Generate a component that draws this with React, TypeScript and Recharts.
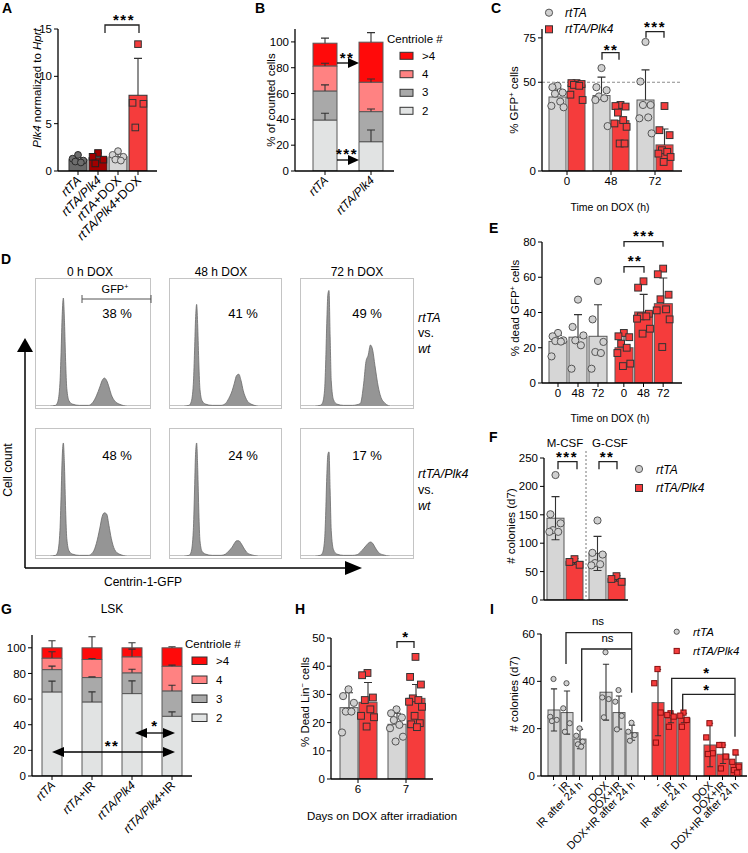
import React from "react";
import { Area, AreaChart, Bar, ComposedChart, ReferenceLine, Scatter, XAxis, YAxis } from "recharts";

const FONT = "'Liberation Sans', Arial, Helvetica, sans-serif";
const GRAY = "#d6d6d6";
const RED = "#f53c3c";
const EDGE = "#585858";
const SEG_KEYS = ["n2", "n3", "n4", "n5"]; // centriole # 2, 3, 4, >4
const SEG_COLORS = ["#e1e3e3", "#a9a9a9", "#ff8282", "#ff0a0a"];

// ---- A: Plk4 mRNA
const aCats = ["rtTA", "rtTA/Plk4", "rtTA+DOX", "rtTA/Plk4+DOX"];
const aLabels = ["_rtTA_", "_rtTA/Plk4_", "_rtTA_+DOX", "_rtTA/Plk4_+DOX"];
const aMean = [1.2, 1.4, 1.5, 8.0];
const aSd = [0.2, 0.5, 0.3, 3.9];
const aPts = [[1.7, 1.3, 1.1, 1.0, 0.9], [1.9, 1.5, 1.2, 0.8], [2.1, 1.7, 1.5, 1.2, 1.1], [13.4, 7.2, 7.1, 4.6]];

// ---- B: centriole number, BM cells
const bCats = ["rtTA", "rtTA/Plk4"];
const bLabels = ["_rtTA_", "_rtTA/Plk4_"];
const bRtta = [39.5, 22.5, 19.4, 17.6];
const bRttaSd = [5.2, 4.7, 2.1, 3.9];
const bPlk4 = [22.7, 23.3, 22.8, 31.0];
const bPlk4Sd = [9.1, 2.0, 2.5, 7.4];

// ---- C: % GFP+ cells
const cTimes = ["0", "48", "72"];
const cRttaMean = [41.7, 42.5, 40.0];
const cRttaSd = [5, 10.4, 17];
const cRttaPts = [[48, 47.2, 44.2, 43.5, 39.1, 36.7, 35.9], [58, 47.2, 45.5, 42, 41, 40, 25.3], [72.7, 50.4, 37.2, 37.2, 30.2, 29.7, 21.2]];
const cPlk4Mean = [48.5, 28.4, 14.7];
const cPlk4Sd = [1.5, 7, 9];
const cPlk4Pts = [[49.5, 49.5, 49, 48.5, 48, 43, 40], [37.2, 36.6, 36.3, 32.9, 28.7, 26.8, 24.9, 15.5, 15.5], [36.6, 23, 20.2, 11.7, 10.8, 9.8, 7.9, 5.1]];

// ---- D: Centrin-1-GFP histograms (x in % of gate axis)
const histX = [0, 12, 17, 19, 21, 22, 23, 24, 25, 26, 27, 29, 32, 38, 46, 50, 53, 56, 58, 60, 62, 64, 66, 69, 73, 80, 100];
const h0Rtta = [0, 0, 0.5, 3, 18, 42, 72, 85, 66, 35, 14, 4, 1.5, 0.5, 0.5, 3, 8, 15, 20, 22, 20, 15, 9, 4, 1.5, 0, 0];
const h48Rtta = [0, 0, 0.5, 3, 17, 40, 68, 80, 62, 33, 13, 4, 1.5, 0.5, 0.5, 2, 6, 12, 18, 24, 25, 20, 12, 5, 1.5, 0, 0];
const h72Rtta = [0, 0, 0.5, 2, 12, 33, 65, 88, 91, 55, 20, 5, 1.5, 0.5, 0.5, 1, 2, 18, 35, 40, 48, 44, 32, 15, 4, 0, 0];
const h0Plk4 = [0, 0, 0.5, 3, 20, 47, 78, 89, 70, 36, 14, 4, 1.5, 0.5, 0.5, 3, 10, 22, 31, 34, 33, 24, 14, 5, 1.5, 0, 0];
const h48Plk4 = [0, 0, 0.5, 3, 20, 48, 80, 89, 68, 34, 12, 3.5, 1.5, 0.5, 0.5, 1.5, 4, 7, 10, 12, 12, 10, 7, 3, 1, 0, 0];
const h72Plk4 = [0, 0, 0.5, 2, 12, 32, 62, 80, 82, 52, 20, 5, 1.5, 0.5, 0.5, 1, 3, 6, 8, 10, 11, 10, 7, 3, 1, 0, 0];

// ---- E: % dead GFP+ cells
const eTimes = ["0", "48", "72"];
const eRttaMean = [23.6, 26, 26.5];
const eRttaSd = [3.5, 12.8, 17.9];
const eRttaPts = [[28.4, 26.5, 24.2, 23.8, 23.5, 15.1], [47.3, 31.8, 27, 24.2, 21.4, 8.1], [57.9, 36.1, 23.3, 17.6, 17, 8.1]];
const ePlk4Mean = [20, 40.3, 45];
const ePlk4Sd = [7, 10, 14.6];
const ePlk4Pts = [[28.4, 26.5, 26, 22.3, 20, 17, 11, 9.6], [57.7, 54.1, 39.3, 37.8, 37.8, 36.5, 30.8, 28], [64.9, 61.7, 50.1, 47.5, 41.8, 41.2, 36.1, 20.4]];

// ---- F: colonies
const fMedia = ["M-CSF", "G-CSF"];
const fRttaMean = [144, 82];
const fRttaSd = [38, 30];
const fRttaPts = [[220, 151, 135, 123, 120, 120], [140, 83, 80, 65, 63, 61]];
const fPlk4Mean = [68, 38];
const fPlk4Sd = [5, 5];
const fPlk4Pts = [[72, 67, 62], [42, 37, 32]];

// ---- G: centriole number, LSK
const gCats = ["rtTA", "rtTA+IR", "rtTA/Plk4", "rtTA/Plk4+IR"];
const gLabels = ["_rtTA_", "_rtTA_+IR", "_rtTA/Plk4_", "_rtTA/Plk4_+IR"];
const gRtta = [65.6, 17.4, 9, 8];
const gRttaSd = [8.4, 2.7, 4.9, 5.5];
const gRttaIr = [57.8, 19, 14.1, 9.1];
const gRttaIrSd = [7.8, 0.5, 0.8, 8.6];
const gPlk4 = [64.3, 16.2, 12.5, 7];
const gPlk4Sd = [9.9, 2.8, 6, 3.9];
const gPlk4Ir = [46.6, 19.8, 19.3, 14.3];
const gPlk4IrSd = [3.4, 4.4, 0.8, 0.8];

// ---- H: % dead Lin- cells
const hDays = ["6", "7"];
const hRttaMean = [25.3, 19.4];
const hRttaSd = [5.3, 3.9];
const hRttaPts = [[31.8, 29.4, 27, 23.9, 23.9, 16.5], [24.7, 23.3, 21.8, 20.9, 19.2, 18, 15, 13.3]];
const hPlk4Mean = [27.2, 28.6];
const hPlk4Sd = [7, 4.9];
const hPlk4Pts = [[37.6, 36.8, 28.9, 28, 24.7, 22.4, 21.9, 18.6], [43.3, 36.2, 33.5, 28.6, 28, 27.4, 25.6, 22.4, 19.8, 19.4, 18.4]];

// ---- I: colonies after IR
const iSlots = ["r1", "r2", "r3", "gA", "r4", "r5", "r6", "gB", "p1", "p2", "p3", "gC", "p4", "p5", "p6"];
const iLabels = ["-", "IR", "IR after 24 h", "", "DOX", "DOX+IR", "DOX+IR after 24 h", "", "-", "IR", "IR after 24 h", "", "DOX", "DOX+IR", "DOX+IR after 24 h"];
const iGeno = ["rtTA", "rtTA", "rtTA", "", "rtTA", "rtTA", "rtTA", "", "Plk4", "Plk4", "Plk4", "", "Plk4", "Plk4", "Plk4"];
const iMean = [27.9, 26.8, 15.6, null, 35.4, 26.8, 18.3, null, 31, 24.5, 24.5, null, 13.1, 9.2, 5.6];
const iSd = [8.9, 9.1, 4.1, null, 11.8, 7, 3.2, null, 14, 2, 2, null, 9.2, 3.9, 3.3];
const iPts = [[41, 25, 23.7, 23.2], [39.2, 28.6, 22.3, 18.7], [20.1, 17, 14.5, 13.4, 12.4], [], [52.3, 33.2, 32.5, 24.8], [36.3, 31.4, 25.4, 19.7], [22.5, 18.7, 17.3, 14.9], [], [45.2, 39.2, 26.8, 14.1], [26.5, 25.8, 25.1, 20.8], [26.8, 25.5, 23.7, 20.8], [], [22.3, 16.3, 9.6, 9.3], [13.1, 13.1, 8.2, 3.2], [10, 6, 3.9, 2.5, 1.4]];

type DotStyle = { kind: "c" | "s"; fill: string; stroke: string; r: number };
type Ser = {
  key: string;
  mean: (number | null)[];
  err: (number | null)[];
  pts: number[][];
  fill: string | string[];
  stroke?: string;
  dot: DotStyle | (DotStyle | null)[];
};

const grayDot: DotStyle = { kind: "c", fill: "#d0d0d0", stroke: "#555", r: 3.6 };
const redDot: DotStyle = { kind: "s", fill: RED, stroke: "#333", r: 3.4 };
const grayDotS: DotStyle = { kind: "c", fill: "#d0d0d0", stroke: "#555", r: 2.6 };
const redDotS: DotStyle = { kind: "s", fill: RED, stroke: "#8a1010", r: 2.6 };

const JIT = [0, -0.3, 0.3, -0.15, 0.16, -0.36, 0.36, -0.05, 0.24, -0.24, 0.08, -0.12];
const axisLine = { stroke: "#000", strokeWidth: 1.3 };
const tickLine = { stroke: "#000", strokeWidth: 1 };
const tickFont = { fontSize: 11.5, fill: "#000", fontFamily: FONT };

// italic with _x_, superscript with ^x^
const rich = (s: string) =>
  s
    .split(/(_[^_]+_|\^[^^]+\^)/)
    .filter((q) => q !== "")
    .map((q, i) =>
      q[0] === "_" ? (
        <tspan key={i} fontStyle="italic">{q.slice(1, -1)}</tspan>
      ) : q[0] === "^" ? (
        <tspan key={i} baselineShift="super" fontSize="65%">{q.slice(1, -1)}</tspan>
      ) : (
        <tspan key={i}>{q}</tspan>
      )
    );

function frame(box: number[], yw: number, xh: number, t: number, r: number) {
  const [pl, pt, pr, pb] = box;
  const left = pl - yw;
  const top = pt - t;
  return { left, top, width: pr - left + r, height: pb - top + xh, margin: { top: t, right: r, bottom: 0, left: 0 } };
}

function whisker(cx: number, yTop: number, up: number, down: number, cap: number, key?: string) {
  let d = "";
  if (up > 0.5) d += `M${cx},${yTop}V${yTop - up}M${cx - cap},${yTop - up}H${cx + cap}`;
  if (down > 0.5) d += `M${cx},${yTop}V${yTop + down}M${cx - cap},${yTop + down}H${cx + cap}`;
  return d ? <path key={key} d={d} stroke="#333" strokeWidth={1.1} fill="none" /> : null;
}

const rotTick = (cats: string[], labels: string[], fs = 12) => (p: any) => {
  const i = cats.indexOf(p.payload.value);
  return (
    <text transform={`translate(${p.x + 4},${p.y + 4}) rotate(-45)`} textAnchor="end" fontSize={fs} fill="#000" fontFamily={FONT}>
      {rich(labels[i] ?? "")}
    </text>
  );
};

const barShape = (s: Ser, both: boolean) => (p: any) => {
  const { x, y, width, height, payload } = p;
  const v = payload?.[s.key];
  if (v == null || !height) return <g />;
  const k = height / v;
  const sd = payload[s.key + "Err"] ?? 0;
  const fill = Array.isArray(s.fill) ? s.fill[payload.idx] : s.fill;
  return (
    <g>
      <rect x={x} y={y} width={width} height={height} fill={fill} stroke={s.stroke ?? EDGE} strokeWidth={1} />
      {whisker(x + width / 2, y, sd * k, both ? sd * k : 0, Math.min(4, width * 0.26))}
    </g>
  );
};

const dotShape = (s: Ser, dx: number) => (p: any) => {
  const { cx, cy, payload } = p;
  if (!Number.isFinite(cx) || !Number.isFinite(cy)) return <g />;
  const st = Array.isArray(s.dot) ? s.dot[payload?.idx] : s.dot;
  if (!st) return <g />;
  const X = cx + dx;
  return st.kind === "c" ? (
    <circle cx={X} cy={cy} r={st.r} fill={st.fill} stroke={st.stroke} strokeWidth={1} />
  ) : (
    <rect x={X - st.r} y={cy - st.r} width={st.r * 2} height={st.r * 2} fill={st.fill} stroke={st.stroke} strokeWidth={1} />
  );
};

type DotBarsProps = {
  box: number[];
  cats: string[];
  labels?: string[];
  domain: [number, number];
  ticks: number[];
  series: Ser[];
  barSize: number;
  barGap?: number;
  pad?: { left: number; right: number };
  both?: boolean;
  yw?: number;
  xh?: number;
  t?: number;
  r?: number;
  hideY?: boolean;
  noXTicks?: boolean;
  tick?: any;
  spread?: number;
  children?: React.ReactNode;
};

function DotBars(p: DotBarsProps) {
  const yw = p.yw ?? 30;
  const xh = p.xh ?? 20;
  const f = frame(p.box, yw, xh, p.t ?? 6, p.r ?? 6);
  const bg = p.barGap ?? 2;
  const n = p.series.length;
  const rows = p.cats.map((c, i) => {
    const r: any = { c, idx: i };
    p.series.forEach((s) => {
      r[s.key] = s.mean[i];
      r[s.key + "Err"] = s.err[i];
      (s.pts[i] ?? []).forEach((v, j) => (r[`${s.key}_${j}`] = v));
    });
    return r;
  });
  const maxPts = Math.max(...p.series.flatMap((s) => s.pts.map((q) => q.length)));
  const labels = p.labels;
  return (
    <div style={{ position: "absolute", left: f.left, top: f.top }}>
      <ComposedChart width={f.width} height={f.height} data={rows} margin={f.margin} barSize={p.barSize} barGap={bg} barCategoryGap={0} style={{ fontFamily: FONT }}>
        <XAxis
          dataKey="c"
          type="category"
          height={xh}
          padding={p.pad ?? { left: 0, right: 0 }}
          interval={0}
          axisLine={axisLine}
          tickLine={p.noXTicks ? false : tickLine}
          tickSize={4}
          tick={p.noXTicks ? false : p.tick ?? tickFont}
          tickFormatter={labels ? (v: string) => labels[p.cats.indexOf(v)] ?? "" : undefined}
        />
        <YAxis type="number" width={yw} hide={p.hideY} domain={p.domain} ticks={p.ticks} allowDataOverflow interval={0} axisLine={axisLine} tickLine={tickLine} tickSize={4} tick={tickFont} />
        {p.children}
        {p.series.map((s) => (
          <Bar key={s.key} dataKey={s.key} isAnimationActive={false} shape={barShape(s, !!p.both)} />
        ))}
        {p.series.flatMap((s, si) =>
          Array.from({ length: maxPts }, (_, j) => (
            <Scatter
              key={`${s.key}_${j}`}
              dataKey={`${s.key}_${j}`}
              isAnimationActive={false}
              shape={dotShape(s, (si - (n - 1) / 2) * (p.barSize + bg) + JIT[j % JIT.length] * p.barSize * (p.spread ?? 1))}
            />
          ))
        )}
      </ComposedChart>
    </div>
  );
}

const stackTop = (p: any) => {
  const { x, y, width, height, payload } = p;
  const last = SEG_KEYS[SEG_KEYS.length - 1];
  const k = height / payload[last];
  const below = SEG_KEYS.slice(0, -1).reduce((s, kk) => s + payload[kk], 0);
  const base = y + height + below * k;
  let cum = 0;
  return (
    <g>
      <rect x={x} y={y} width={width} height={height} fill={SEG_COLORS[3]} stroke={EDGE} strokeWidth={1} />
      {SEG_KEYS.map((kk) => {
        cum += payload[kk];
        return whisker(x + width / 2, base - cum * k, payload[kk + "Err"] * k, 0, Math.min(4, width * 0.18), kk);
      })}
    </g>
  );
};

function StackBars(p: { box: number[]; cats: string[]; labels: string[]; segs: number[][]; sds: number[][]; barSize: number; pad?: { left: number; right: number } }) {
  const f = frame(p.box, 30, 80, 6, 6);
  const rows = p.cats.map((c, i) => {
    const r: any = { c };
    SEG_KEYS.forEach((k, j) => {
      r[k] = p.segs[i][j];
      r[k + "Err"] = p.sds[i][j];
    });
    return r;
  });
  return (
    <div style={{ position: "absolute", left: f.left, top: f.top }}>
      <ComposedChart width={f.width} height={f.height} data={rows} margin={f.margin} barSize={p.barSize} barCategoryGap={0} style={{ fontFamily: FONT }}>
        <XAxis dataKey="c" type="category" height={80} padding={p.pad ?? { left: 0, right: 0 }} interval={0} axisLine={axisLine} tickLine={tickLine} tickSize={4} tick={rotTick(p.cats, p.labels)} />
        <YAxis type="number" width={30} domain={[0, 110]} ticks={[0, 20, 40, 60, 80, 100]} allowDataOverflow interval={0} axisLine={axisLine} tickLine={tickLine} tickSize={4} tick={tickFont} />
        {SEG_KEYS.map((k, j) => (
          <Bar key={k} dataKey={k} stackId="s" fill={SEG_COLORS[j]} stroke={EDGE} strokeWidth={1} isAnimationActive={false} shape={j === SEG_KEYS.length - 1 ? stackTop : undefined} />
        ))}
      </ComposedChart>
    </div>
  );
}

function Hist({ x, y, w, h, vals }: { x: number; y: number; w: number; h: number; vals: number[] }) {
  const data = histX.map((xx, i) => ({ x: xx, v: vals[i] }));
  return (
    <div style={{ position: "absolute", left: x, top: y, width: w, height: h, border: "1px solid #c4c4c4", boxSizing: "border-box" }}>
      <AreaChart width={w - 2} height={h - 2} data={data} margin={{ top: 0, right: 0, bottom: 2, left: 0 }}>
        <XAxis dataKey="x" type="number" domain={[0, 100]} hide />
        <YAxis type="number" domain={[0, 100]} hide allowDataOverflow />
        <Area type="monotone" dataKey="v" fill="#959595" fillOpacity={1} stroke="#6a6a6a" strokeWidth={0.8} isAnimationActive={false} />
      </AreaChart>
    </div>
  );
}

const Txt = ({ x, y, s, size = 11, anchor = "middle" }: any) => (
  <text x={x} y={y} fontSize={size} textAnchor={anchor} fill="#000">{rich(s)}</text>
);
const VT = ({ x, y, s, size = 11.5 }: any) => (
  <text transform={`translate(${x},${y}) rotate(-90)`} fontSize={size} textAnchor="middle" fill="#000">{rich(s)}</text>
);
const Stars = ({ x, y, n, size = 15 }: any) => (
  <text x={x} y={y + size * 0.6} fontSize={size} fontWeight="bold" textAnchor="middle" letterSpacing={1.5} fill="#000">{"*".repeat(n)}</text>
);
const Br = ({ x1, x2, y, d1, d2 }: any) => (
  <path d={`M${x1},${y + d1}V${y}H${x2}V${y + d2}`} stroke="#222" strokeWidth={1.3} fill="none" />
);
const Arrow = ({ x1, x2, y }: any) => (
  <g>
    <line x1={x1} x2={x2 - 9} y1={y} y2={y} stroke="#000" strokeWidth={1.3} />
    <polygon points={`${x2},${y} ${x2 - 11},${y - 5} ${x2 - 11},${y + 5}`} fill="#000" />
  </g>
);
const DArrow = ({ x1, x2, y }: any) => (
  <g>
    <line x1={x1 + 9} x2={x2 - 9} y1={y} y2={y} stroke="#000" strokeWidth={1.3} />
    <polygon points={`${x1},${y} ${x1 + 12},${y - 5} ${x1 + 12},${y + 5}`} fill="#000" />
    <polygon points={`${x2},${y} ${x2 - 12},${y - 5} ${x2 - 12},${y + 5}`} fill="#000" />
  </g>
);
const CentLegend = ({ x, y, sx, sw, sh, tops, lx, bases }: any) => (
  <g>
    <Txt x={x} y={y} s="Centriole #" size={11.5} anchor="start" />
    {[">4", "4", "3", "2"].map((lab, i) => (
      <g key={lab}>
        <rect x={sx} y={tops[i]} width={sw} height={sh} fill={SEG_COLORS[3 - i]} stroke="#333" strokeWidth={1} />
        <Txt x={lx} y={bases[i]} s={lab} size={11.5} anchor="start" />
      </g>
    ))}
  </g>
);

function Overlay() {
  const letters: [string, number, number][] = [["A", 2, 13], ["B", 255, 13], ["C", 491, 13], ["D", 1, 264], ["E", 489, 233], ["F", 489, 442], ["G", 1, 614], ["H", 295, 614], ["I", 490, 614]];
  return (
    <svg width={748} height={853} style={{ position: "absolute", left: 0, top: 0, pointerEvents: "none" }} fontFamily={FONT}>
      {letters.map(([l, x, y]) => (
        <text key={l} x={x} y={y} fontSize={14} fontWeight="bold" fill="#000">{l}</text>
      ))}

      {/* A */}
      <VT x={41} y={88} s="_Plk4_ normalized to _Hprt_" />
      <Br x1={105} x2={139} y={25} d1={8} d2={8} />
      <Stars x={124} y={15.5} n={3} />

      {/* B */}
      <VT x={275} y={100} s="% of counted cells" />
      <Arrow x1={337} x2={359} y={63} />
      <Stars x={347} y={53.5} n={2} />
      <Arrow x1={337} x2={359} y={160} />
      <Stars x={347} y={150} n={3} />
      <CentLegend x={387} y={43} sx={400} sw={13} sh={7} tops={[52.3, 70.7, 89.3, 107.3]} lx={422} bases={[59.5, 77.5, 96, 114.5]} />

      {/* C */}
      <circle cx={549} cy={12.7} r={3.6} fill="#d0d0d0" stroke="#555" />
      <Txt x={565} y={17} s="_rtTA_" size={12} anchor="start" />
      <rect x={545.5} y={25.8} width={7} height={7} fill={RED} stroke="#333" />
      <Txt x={565} y={33} s="_rtTA/Plk4_" size={12} anchor="start" />
      <VT x={518} y={100} s="% GFP^+^ cells" />
      <Br x1={602} x2={619} y={52.7} d1={7} d2={7} />
      <Stars x={611} y={45.5} n={2} />
      <Br x1={646} x2={664} y={31.7} d1={6} d2={6} />
      <Stars x={655} y={23} n={3} />
      <Txt x={610} y={211} s="Time on DOX (h)" size={10.5} />

      {/* D */}
      <Txt x={90} y={276} s="0 h DOX" size={12} />
      <Txt x={221} y={276} s="48 h DOX" size={12} />
      <Txt x={357} y={276} s="72 h DOX" size={12} />
      <Txt x={115} y={293} s="GFP^+^" size={11} />
      <path d="M82,295V303M82,299H151M151,295V303" stroke="#555" strokeWidth={1} fill="none" />
      <Txt x={117} y={318} s="38 %" size={13} />
      <Txt x={243} y={318} s="41 %" size={13} />
      <Txt x={367} y={318} s="49 %" size={13} />
      <Txt x={117} y={460} s="48 %" size={13} />
      <Txt x={243} y={460} s="24 %" size={13} />
      <Txt x={367} y={460} s="17 %" size={13} />
      <Txt x={418} y={322} s="_rtTA_" size={12.5} anchor="start" />
      <Txt x={418} y={337} s="vs." size={12.5} anchor="start" />
      <Txt x={418} y={353} s="_wt_" size={12.5} anchor="start" />
      <Txt x={418} y={478} s="_rtTA/Plk4_" size={12.5} anchor="start" />
      <Txt x={418} y={494} s="vs." size={12.5} anchor="start" />
      <Txt x={418} y={510} s="_wt_" size={12.5} anchor="start" />
      <line x1={25} x2={25} y1={568} y2={350} stroke="#000" strokeWidth={1.5} />
      <polygon points="25,338 17,352 33,352" fill="#000" />
      <line x1={25} x2={347} y1={568} y2={568} stroke="#000" strokeWidth={1.5} />
      <polygon points="362,568 345,561 345,575" fill="#000" />
      <VT x={12} y={470} s="Cell count" size={12} />
      <Txt x={143} y={586} s="Centrin-1-GFP" size={12} />

      {/* E */}
      <VT x={519} y={308} s="% dead GFP^+^ cells" />
      <Br x1={624} x2={663} y={241.7} d1={5} d2={5} />
      <Stars x={644} y={232} n={3} />
      <Br x1={624} x2={644} y={266.7} d1={6} d2={6} />
      <Stars x={635} y={257} n={2} />
      <Txt x={610} y={422} s="Time on DOX (h)" size={10.5} />

      {/* F */}
      <VT x={515} y={526} s="# colonies (d7)" />
      <Txt x={565} y={447} s="M-CSF" size={11.5} />
      <Txt x={610} y={447} s="G-CSF" size={11.5} />
      <Br x1={558} x2={577} y={461.7} d1={7.6} d2={7.6} />
      <Stars x={567} y={453} n={3} />
      <Br x1={599} x2={617} y={461.7} d1={7.6} d2={7.6} />
      <Stars x={607} y={453} n={2} />
      <line x1={586} x2={586} y1={451} y2={600} stroke="#777" strokeWidth={1} strokeDasharray="2 2" />
      <circle cx={639} cy={469} r={3.6} fill="#d0d0d0" stroke="#555" />
      <Txt x={656} y={474} s="_rtTA_" size={12} anchor="start" />
      <rect x={635.5} y={484.5} width={7} height={7} fill={RED} stroke="#333" />
      <Txt x={656} y={492} s="_rtTA/Plk4_" size={12} anchor="start" />

      {/* G */}
      <Txt x={112} y={613} s="LSK" size={12} />
      <CentLegend x={185} y={648} sx={192} sw={15} sh={7.5} tops={[657, 676, 695, 714]} lx={216} bases={[665, 684, 703, 722]} />
      <DArrow x1={52} x2={175} y={752} />
      <Stars x={112} y={742} n={2} />
      <DArrow x1={135} x2={175} y={733} />
      <Stars x={155} y={722} n={1} />

      {/* H */}
      <VT x={309} y={702} s="% Dead Lin^−^ cells" />
      <Br x1={397} x2={414} y={641.7} d1={6.3} d2={6.3} />
      <Stars x={406} y={633} n={1} />
      <Txt x={382} y={820} s="Days on DOX after irradiation" size={11.5} />

      {/* I */}
      <VT x={518} y={694} s="# colonies (d7)" />
      <path d="M566,664V632.7H631.7V692.7" stroke="#222" strokeWidth={1.3} fill="none" />
      <path d="M581.7,721.7V649H631.7" stroke="#222" strokeWidth={1.3} fill="none" />
      <Txt x={598} y={625} s="ns" size={11.5} />
      <Txt x={607.5} y={642} s="ns" size={11.5} />
      <path d="M671.7,714V678.3H735V736.7" stroke="#222" strokeWidth={1.3} fill="none" />
      <path d="M682.7,710.7V694.3H735" stroke="#222" strokeWidth={1.3} fill="none" />
      <Stars x={707} y={669} n={1} />
      <Stars x={707} y={685.5} n={1} />
      <circle cx={676.7} cy={631.7} r={2.6} fill="#d0d0d0" stroke="#555" />
      <Txt x={693} y={636} s="_rtTA_" size={11.5} anchor="start" />
      <rect x={674.1} y={648.4} width={5.2} height={5.2} fill={RED} stroke="#8a1010" />
      <Txt x={693} y={655} s="_rtTA/Plk4_" size={11.5} anchor="start" />
    </svg>
  );
}

export default function App() {
  const aDots: DotStyle[] = [
    { kind: "c", fill: "#6e6e6e", stroke: "#2a2a2a", r: 3.4 },
    { kind: "s", fill: "#a30000", stroke: "#222", r: 3.3 },
    { kind: "c", fill: "#d3d3d3", stroke: "#555", r: 3.4 },
    { kind: "s", fill: RED, stroke: "#333", r: 3.3 },
  ];
  const iFill = iGeno.map((g) => (g === "Plk4" ? RED : GRAY));
  const iDots = iGeno.map((g) => (g === "Plk4" ? redDotS : g ? grayDotS : null));
  return (
    <div style={{ position: "absolute", left: 0, top: 0, width: 748, height: 853, background: "#fff", fontFamily: FONT, overflow: "hidden" }}>
      {/* A */}
      <DotBars
        box={[58, 29, 157, 171]}
        cats={aCats}
        domain={[0, 15]}
        ticks={[0, 5, 10, 15]}
        barSize={18}
        pad={{ left: 10, right: 9 }}
        xh={80}
        tick={rotTick(aCats, aLabels, 12.5)}
        series={[{ key: "v", mean: aMean, err: aSd, pts: aPts, fill: ["#6a6a6a", "#a30000", GRAY, RED], stroke: "#333", dot: aDots }]}
      />
      {/* B */}
      <StackBars box={[295, 29, 394, 171]} cats={bCats} labels={bLabels} segs={[bRtta, bPlk4]} sds={[bRttaSd, bPlk4Sd]} barSize={24} pad={{ left: 7, right: 0 }} />
      {/* C */}
      <DotBars
        box={[542, 29, 682, 171]}
        cats={cTimes}
        domain={[0, 80]}
        ticks={[0, 50, 75]}
        barSize={17}
        barGap={2}
        pad={{ left: 3, right: 5 }}
        series={[
          { key: "g", mean: cRttaMean, err: cRttaSd, pts: cRttaPts, fill: GRAY, dot: grayDot },
          { key: "r", mean: cPlk4Mean, err: cPlk4Sd, pts: cPlk4Pts, fill: RED, dot: redDot },
        ]}
      >
        <ReferenceLine y={50} stroke="#8c8c8c" strokeDasharray="3 2" strokeWidth={1.2} />
      </DotBars>
      {/* D */}
      <Hist x={35} y={278} w={116} h={131} vals={h0Rtta} />
      <Hist x={169} y={278} w={113} h={131} vals={h48Rtta} />
      <Hist x={300} y={278} w={114} h={131} vals={h72Rtta} />
      <Hist x={35} y={428} w={116} h={131} vals={h0Plk4} />
      <Hist x={169} y={428} w={113} h={131} vals={h48Plk4} />
      <Hist x={300} y={428} w={114} h={131} vals={h72Plk4} />
      {/* E */}
      <DotBars
        box={[542, 242, 611, 383]}
        cats={["g0", "g48", "g72"]}
        labels={eTimes}
        domain={[0, 80]}
        ticks={[0, 20, 40, 60, 80]}
        barSize={18}
        pad={{ left: 6, right: 3 }}
        r={0}
        series={[{ key: "g", mean: eRttaMean, err: eRttaSd, pts: eRttaPts, fill: GRAY, dot: grayDot }]}
      />
      <DotBars
        box={[611, 242, 682, 383]}
        cats={["r0", "r48", "r72"]}
        labels={eTimes}
        domain={[0, 80]}
        ticks={[0, 20, 40, 60, 80]}
        barSize={18}
        pad={{ left: 3, right: 9 }}
        yw={0}
        hideY
        series={[{ key: "r", mean: ePlk4Mean, err: ePlk4Sd, pts: ePlk4Pts, fill: RED, dot: redDot }]}
      />
      {/* F */}
      <DotBars
        box={[544, 458, 628, 600]}
        cats={fMedia}
        domain={[0, 250]}
        ticks={[0, 50, 100, 150, 200, 250]}
        barSize={17}
        barGap={2}
        xh={12}
        noXTicks
        both
        series={[
          { key: "g", mean: fRttaMean, err: fRttaSd, pts: fRttaPts, fill: GRAY, dot: grayDot },
          { key: "r", mean: fPlk4Mean, err: fPlk4Sd, pts: fPlk4Pts, fill: RED, dot: redDot },
        ]}
      />
      {/* G */}
      <StackBars box={[32, 635, 192, 776]} cats={gCats} labels={gLabels} segs={[gRtta, gRttaIr, gPlk4, gPlk4Ir]} sds={[gRttaSd, gRttaIrSd, gPlk4Sd, gPlk4IrSd]} barSize={20} />
      {/* H */}
      <DotBars
        box={[331, 638, 433, 779]}
        cats={hDays}
        domain={[0, 50]}
        ticks={[0, 10, 20, 30, 40, 50]}
        barSize={18}
        barGap={1}
        pad={{ left: 3, right: 3 }}
        xh={22}
        series={[
          { key: "g", mean: hRttaMean, err: hRttaSd, pts: hRttaPts, fill: GRAY, dot: grayDot },
          { key: "r", mean: hPlk4Mean, err: hPlk4Sd, pts: hPlk4Pts, fill: RED, dot: redDot },
        ]}
      />
      {/* I */}
      <DotBars
        box={[541, 634, 747, 776]}
        cats={iSlots}
        domain={[0, 60]}
        ticks={[0, 20, 40, 60]}
        barSize={12}
        pad={{ left: 6, right: 5 }}
        xh={80}
        r={0}
        both
        spread={0.9}
        tick={rotTick(iSlots, iLabels, 11)}
        series={[{ key: "v", mean: iMean, err: iSd, pts: iPts, fill: iFill, dot: iDots }]}
      />
      <Overlay />
    </div>
  );
}
